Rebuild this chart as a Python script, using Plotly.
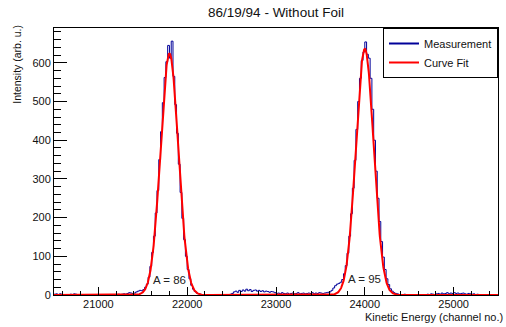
import numpy as np
import plotly.graph_objects as go

# Histogram binning (channels)
bin_start = 20500
bin_width = 20

# Measured counts per 20-channel bin, split by region
counts_low = [2, 3, 1, 3, 2, 1, 0, 1, 0, 2,
              1, 3, 2, 1, 0, 1, 0, 0, 1, 0,
              0, 1, 0, 0, 1, 0, 0, 1, 0, 0,
              1, 0, 0, 1, 0, 1, 2, 1, 2, 3,
              2, 4, 6, 5, 4]                      # 20500 - 21400
counts_peak1 = [5, 8, 10, 12, 11, 14, 20, 28, 46, 74,
                110, 152, 212, 270, 350, 422, 497, 562, 603, 645,
                612, 656, 565, 492, 418, 338, 265, 198, 143, 100,
                66, 42, 25, 15, 9, 5, 3, 2, 1, 0]   # 21400 - 22200
counts_gap = [0, 1, 0, 0, 0, 1, 0, 0, 0, 0, 1, 0, 0, 1, 2,
              4, 8, 10, 7, 12, 9, 13, 10, 15, 11, 14, 9, 12, 13, 10,
              12, 9, 11, 8, 10, 9, 7, 9, 8, 6,
              4, 5, 3, 6, 4, 3, 5, 2, 4, 5, 3, 4, 6, 3, 4,
              5, 3, 4, 5, 4, 6, 3, 5, 4, 6, 5, 4, 5, 6, 7]  # 22200 - 23600
counts_peak2 = [8, 12, 18, 24, 28, 30, 33, 40, 55, 76,
                108, 152, 210, 276, 348, 428, 500, 560, 606, 628,
                654, 622, 612, 560, 480, 400, 320, 250, 190, 138,
                98, 66, 42, 27, 16, 10, 6, 4, 3, 1]      # 23600 - 24400
counts_high = [0, 1, 2, 1, 0, 1, 0, 0, 1, 0,
               1, 0, 0, 1, 0, 2, 1, 3, 2, 1,
               3, 4, 2, 5, 3, 4, 6, 3, 5, 4,
               6, 4, 5, 3, 4, 5, 3, 2, 4, 3,
               2, 3, 1, 2, 1, 0, 1, 0, 1, 0,
               0, 1, 0, 0, 0]                         # 24400 - 25500

# Gaussian fit parameters for the two peaks
fit_amplitude = [624, 636]
fit_mean = [21800, 24000]
fit_sigma = [100, 100]

# Peak labels
label_text = ["A = 86", "A = 95"]
label_x = [21800, 24000]
label_y = [38, 42]

counts = counts_low + counts_peak1 + counts_gap + counts_peak2 + counts_high
edges = bin_start + bin_width * np.arange(len(counts) + 1)
step_y = counts + [counts[-1]]

x_fit = np.linspace(20500, 25500, 2001)
y_fit = np.zeros_like(x_fit)
for a, m, s in zip(fit_amplitude, fit_mean, fit_sigma):
    y_fit += a * np.exp(-0.5 * ((x_fit - m) / s) ** 2)

font_family = "Liberation Sans, Arial, Helvetica, sans-serif"
blue = "#000099"
red = "#ff0000"

fig = go.Figure()
fig.add_trace(go.Scatter(
    x=edges, y=step_y, mode="lines", line_shape="hv",
    line=dict(color=blue, width=1), showlegend=False))
fig.add_trace(go.Scatter(
    x=x_fit, y=y_fit, mode="lines",
    line=dict(color=red, width=2), showlegend=False))

# Legend entries drawn with thicker sample lines
fig.add_trace(go.Scatter(x=[None], y=[None], mode="lines",
                         line=dict(color=blue, width=2), name="Measurement"))
fig.add_trace(go.Scatter(x=[None], y=[None], mode="lines",
                         line=dict(color=red, width=2), name="Curve Fit"))

for t, xx, yy in zip(label_text, label_x, label_y):
    fig.add_annotation(x=xx, y=yy, xref="x", yref="y", text=t, showarrow=False,
                       font=dict(size=11.5, color="#222222", family=font_family))

# Axis titles, aligned to the axis ends
fig.add_annotation(x=1.016, y=-0.083, xref="paper", yref="paper",
                   text="Kinetic Energy (channel no.)", showarrow=False,
                   xanchor="right", yanchor="middle",
                   font=dict(size=11, color="#111111", family=font_family))
fig.add_annotation(x=-0.084, y=0.865, xref="paper", yref="paper",
                   text="Intensity (arb. u.)", showarrow=False, textangle=-90,
                   xanchor="center", yanchor="middle",
                   font=dict(size=10.5, color="#111111", family=font_family))

fig.update_layout(
    width=506, height=327,
    margin=dict(l=54, r=8, t=28, b=32),
    paper_bgcolor="white", plot_bgcolor="white",
    font=dict(family=font_family, size=11, color="#111111"),
    title=dict(text="86/19/94 - Without Foil", x=0.5, xref="paper",
               y=1 - 12.5 / 327, yref="container", yanchor="middle",
               xanchor="center", font=dict(size=13.5, color="#111111")),
    showlegend=True,
    legend=dict(x=1, y=1, xanchor="right", yanchor="top",
                bgcolor="white", bordercolor="black", borderwidth=1,
                font=dict(size=11), itemwidth=30, tracegroupgap=0),
)
fig.update_xaxes(
    range=[20500, 25500], showgrid=False, zeroline=False,
    showline=True, mirror=True, linecolor="black", linewidth=1,
    ticks="inside", ticklen=8, tickcolor="black", dtick=1000, tick0=21000,
    tickformat="d", ticklabelstandoff=-1,
    minor=dict(ticks="inside", ticklen=4, dtick=200, tickcolor="black"),
    tickfont=dict(size=11))
fig.update_yaxes(
    range=[0, 690], showgrid=False, zeroline=False,
    showline=True, mirror=True, linecolor="black", linewidth=1,
    ticks="inside", ticklen=13, tickcolor="black", dtick=100,
    tickformat="d",
    minor=dict(ticks="inside", ticklen=6.5, dtick=20, tickcolor="black"),
    tickfont=dict(size=11))

fig.write_html("out.html")
